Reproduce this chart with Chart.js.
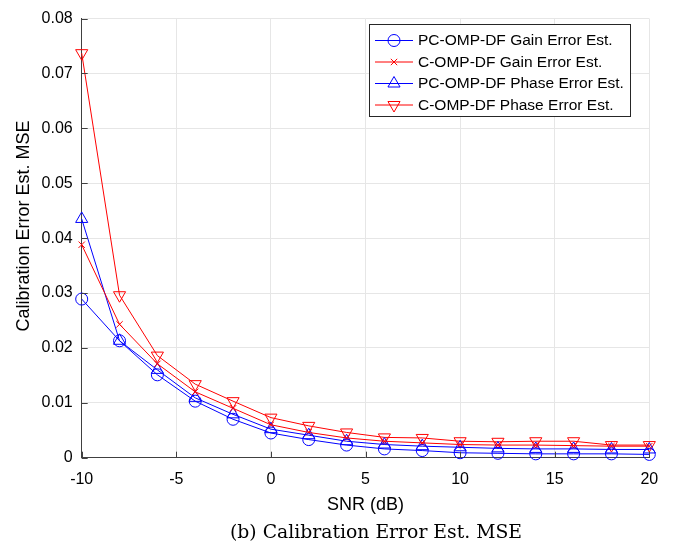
<!DOCTYPE html>
<html>
<head>
<meta charset="utf-8">
<script src="https://cdn.jsdelivr.net/npm/chart.js@4"></script>
<style>
  body { margin: 0; background: #fff; }
  #wrap { width: 676px; height: 549px; }
</style>
</head>
<body>
<div id="wrap"><canvas id="mseChart" width="676" height="549"></canvas></div>
<script>
// SNR values (dB) and MSE per method
const snr = [-10, -8, -6, -4, -2, 0, 2, 4, 6, 8, 10, 12, 14, 16, 18, 20];
const pcGain = [0.0289, 0.0213, 0.0151, 0.0103, 0.0070, 0.0045, 0.0033, 0.0023, 0.0016, 0.0013, 0.0009, 0.0008, 0.0007, 0.0007, 0.0007, 0.0006];
const cGain = [0.0388, 0.0243, 0.0171, 0.0120, 0.0090, 0.0060, 0.0046, 0.0036, 0.0030, 0.0027, 0.0024, 0.0023, 0.0023, 0.0022, 0.0021, 0.0021];
const pcPhase = [0.0435, 0.0213, 0.0160, 0.0109, 0.0079, 0.0052, 0.0041, 0.0030, 0.0024, 0.0021, 0.0019, 0.0017, 0.0016, 0.0016, 0.0015, 0.0015];
const cPhase = [0.0737, 0.0296, 0.0186, 0.0134, 0.0103, 0.0073, 0.0058, 0.0046, 0.0037, 0.0036, 0.0030, 0.0029, 0.0030, 0.0030, 0.0023, 0.0023];
const labels = ['PC-OMP-DF Gain Error Est.', 'C-OMP-DF Gain Error Est.', 'PC-OMP-DF Phase Error Est.', 'C-OMP-DF Phase Error Est.'];

const FONT = '"Liberation Sans", Arial, sans-serif';

function series(vals) {
  return vals.map((v, i) => ({ x: snr[i], y: v }));
}

function ds(label, vals, color, style, radius, rotation) {
  return {
    label: label,
    data: series(vals),
    borderColor: color,
    backgroundColor: 'rgba(0,0,0,0)',
    borderWidth: 1,
    pointStyle: style,
    pointRadius: radius,
    pointRotation: rotation,
    pointBorderColor: color,
    pointBackgroundColor: 'rgba(0,0,0,0)',
    pointBorderWidth: 1,
    tension: 0,
    clip: false
  };
}

// inward tick marks, matlab style
const innerTicks = {
  id: 'innerTicks',
  afterDatasetsDraw(chart) {
    const { ctx, chartArea, scales } = chart;
    ctx.save();
    ctx.strokeStyle = '#404040';
    ctx.lineWidth = 1;
    scales.x.ticks.forEach(t => {
      const px = Math.round(scales.x.getPixelForValue(t.value)) + 0.5;
      ctx.beginPath();
      ctx.moveTo(px, chartArea.bottom);
      ctx.lineTo(px, chartArea.bottom - 6);
      ctx.stroke();
    });
    scales.y.ticks.forEach(t => {
      const py = Math.round(scales.y.getPixelForValue(t.value)) + 0.5;
      ctx.beginPath();
      ctx.moveTo(chartArea.left, py);
      ctx.lineTo(chartArea.left + 6, py);
      ctx.stroke();
    });
    ctx.restore();
  }
};

// legend box with line + marker samples, y label and caption
const lineLegend = {
  id: 'lineLegend',
  afterDraw(chart) {
    const ctx = chart.ctx;
    const bx = 369.5, by = 24.5, bw = 261, bh = 92;
    ctx.save();
    ctx.fillStyle = '#fff';
    ctx.fillRect(bx, by, bw, bh);
    ctx.strokeStyle = '#262626';
    ctx.lineWidth = 1;
    ctx.strokeRect(bx, by, bw, bh);
    chart.data.datasets.forEach((d, i) => {
      const y = 40.5 + i * 21.5;
      ctx.strokeStyle = d.borderColor;
      ctx.fillStyle = 'rgba(0,0,0,0)';
      ctx.lineWidth = 1;
      ctx.beginPath();
      ctx.moveTo(375, y);
      ctx.lineTo(413, y);
      ctx.stroke();
      Chart.helpers.drawPoint(ctx, {
        pointStyle: d.pointStyle,
        radius: d.pointRadius,
        rotation: d.pointRotation,
        borderWidth: 1
      }, 394, y);
      ctx.fillStyle = '#000';
      ctx.font = '15.5px ' + FONT;
      ctx.textBaseline = 'middle';
      ctx.textAlign = 'left';
      ctx.fillText(d.label, 418, y + 0.5);
    });

    ctx.fillStyle = '#000';
    ctx.textAlign = 'center';
    ctx.textBaseline = 'middle';
    ctx.save();
    ctx.translate(24, 226);
    ctx.rotate(-Math.PI / 2);
    ctx.font = '18px ' + FONT;
    ctx.fillText('Calibration Error Est. MSE', 0, 0);
    ctx.restore();

    // caption, stretched to the width of the latex original
    const cap = '(b) Calibration Error Est. MSE';
    ctx.font = '18px "DejaVu Serif", serif';
    const w = ctx.measureText(cap).width;
    ctx.save();
    ctx.translate(376, 533);
    ctx.scale(292 / w, 1);
    ctx.fillText(cap, 0, 0);
    ctx.restore();
    ctx.restore();
  }
};

new Chart(document.getElementById('mseChart'), {
  type: 'line',
  data: {
    datasets: [
      ds(labels[0], pcGain, '#0000ff', 'circle', 6, 0),
      ds(labels[1], cGain, '#ff0000', 'crossRot', 4.5, 0),
      ds(labels[2], pcPhase, '#0000ff', 'triangle', 7, 0),
      ds(labels[3], cPhase, '#ff0000', 'triangle', 7, 180)
    ]
  },
  options: {
    responsive: false,
    animation: false,
    layout: { padding: { top: 9.7, right: 26.7, left: 0, bottom: 0 } },
    plugins: { legend: { display: false }, tooltip: { enabled: false } },
    scales: {
      x: {
        type: 'linear',
        min: -10,
        max: 20,
        afterFit: s => { s.height = 91.3; },
        ticks: { stepSize: 5, color: '#000', padding: 12, font: { family: FONT, size: 16 } },
        grid: { color: '#e6e6e6', drawTicks: false },
        border: { color: '#404040', width: 1 },
        title: { display: true, text: 'SNR (dB)', color: '#000', font: { family: FONT, size: 18 }, padding: { top: 0, bottom: 33 } }
      },
      y: {
        min: 0,
        max: 0.08,
        afterFit: s => { s.width = 81.7; },
        ticks: {
          stepSize: 0.01,
          color: '#000',
          padding: 9,
          font: { family: FONT, size: 16 },
          callback: v => (v === 0 ? '0' : v.toFixed(2))
        },
        grid: { color: '#e6e6e6', drawTicks: false },
        border: { color: '#404040', width: 1 }
      }
    }
  },
  plugins: [innerTicks, lineLegend]
});
</script>
</body>
</html>
